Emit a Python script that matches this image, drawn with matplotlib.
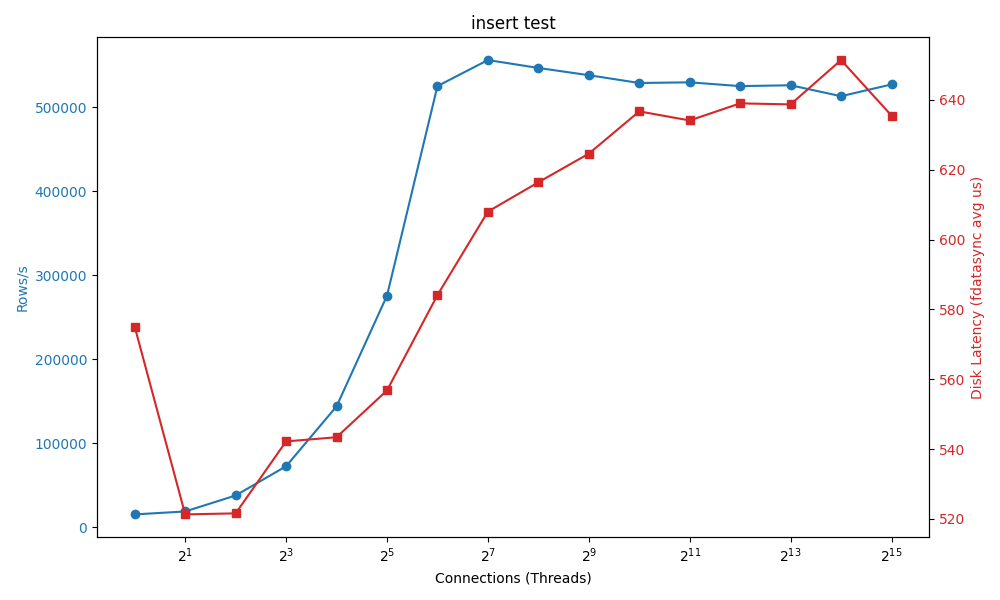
import matplotlib
matplotlib.use("Agg")
import matplotlib.pyplot as plt

threads = [2**i for i in range(16)]
rows_per_s = [15500, 19000, 38000, 72800, 144000, 275700, 525000, 556000,
              546600, 538000, 528700, 529500, 525000, 526000, 513000, 527000]
latency_us = [575.0, 521.3, 521.6, 542.2, 543.4, 556.8, 584.1, 608.0,
              616.4, 624.6, 636.7, 634.1, 639.0, 638.7, 651.4, 635.5]

fig, ax1 = plt.subplots(figsize=(10, 6), dpi=100)

blue = "tab:blue"
red = "tab:red"

ax1.plot(threads, rows_per_s, marker="o", color=blue)
ax1.set_xscale("log", base=2)
ax1.set_xlabel("Connections (Threads)")
ax1.set_ylabel("Rows/s", color=blue)
ax1.tick_params(axis="y", labelcolor=blue)

ax2 = ax1.twinx()
ax2.plot(threads, latency_us, marker="s", color=red)
ax2.set_ylabel("Disk Latency (fdatasync avg us)", color=red)
ax2.tick_params(axis="y", labelcolor=red)

plt.title("insert test")
fig.tight_layout()
plt.savefig("out.png")
